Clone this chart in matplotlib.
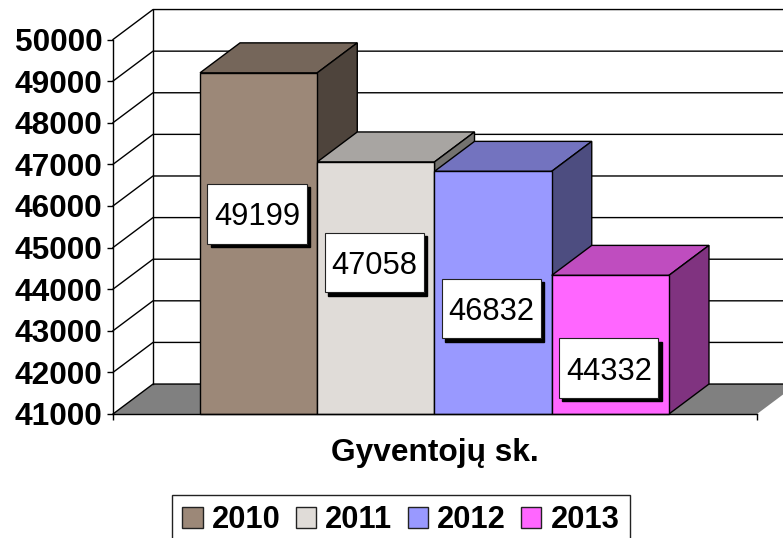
import matplotlib
matplotlib.use('Agg')
import matplotlib.pyplot as plt
from matplotlib.patches import Patch, Polygon, Rectangle

plt.rcParams['font.family'] = ['Liberation Sans', 'DejaVu Sans']

years = ['2010', '2011', '2012', '2013']
population = [49199, 47058, 46832, 44332]
y_ticks = [41000, 42000, 43000, 44000, 45000, 46000, 47000, 48000, 49000, 50000]
axis_title = 'Gyventojų sk.'

front_colors = ['#9C8878', '#E0DCD8', '#9999FF', '#FF66FF']
top_colors = ['#75665A', '#A8A5A2', '#7373BF', '#BF4DBF']
side_colors = ['#4E443C', '#74726F', '#4D4D80', '#803380']

# where the value boxes sit on the y scale
label_y = [45812, 44636, 43532, 42104]

W, H = 783, 538
fig = plt.figure(figsize=(W/100, H/100), dpi=100)
ax = fig.add_axes([113/W, 1-414/H, 644/W, 374.5/H])

base = y_ticks[0]
xmin, xmax = -0.5-87/117.2, 3.5+88/117.2
ax.set_xlim(xmin, xmax)
ax.set_ylim(base, y_ticks[-1])

# depth of the fake 3D, in data units
dx = 40/117.2
dy = 720
lw = 1.0

# floor
ax.add_patch(Polygon([(xmin, base), (xmin+dx, base+dy), (xmax+dx, base+dy), (xmax, base)],
                     closed=True, facecolor='#808080', edgecolor='none',
                     zorder=1, clip_on=False))

# walls
for v in y_ticks:
    ax.plot([xmin, xmin+dx, xmax+dx], [v, v+dy, v+dy], color='k', lw=lw,
            zorder=2, clip_on=False)
ax.plot([xmin+dx, xmin+dx], [base+dy, y_ticks[-1]+dy], color='k', lw=lw,
        zorder=2, clip_on=False)

# bars, left to right so the later ones cover the earlier sides
for i, v in enumerate(population):
    z = 3+i
    l, r = i-0.5, i+0.5
    ax.add_patch(Polygon([(l, v), (l+dx, v+dy), (r+dx, v+dy), (r, v)], closed=True,
                         facecolor=top_colors[i], edgecolor='k', lw=lw, zorder=z,
                         clip_on=False))
    ax.add_patch(Polygon([(r, base), (r+dx, base+dy), (r+dx, v+dy), (r, v)], closed=True,
                         facecolor=side_colors[i], edgecolor='k', lw=lw, zorder=z,
                         clip_on=False))
    ax.bar(i, v-base, bottom=base, width=1, color=front_colors[i], edgecolor='k',
           lw=lw, zorder=z, clip_on=False)

# value boxes with hard shadow
box_w = 99/117.2
box_h = 1430
shadow_x = 3.3/117.2
shadow_y = 80
for i, v in enumerate(population):
    ax.add_patch(Rectangle((i-box_w/2-0.014+shadow_x, label_y[i]-box_h/2-shadow_y), box_w, box_h,
                           facecolor='k', edgecolor='k', lw=lw, zorder=10))
    ax.add_patch(Rectangle((i-box_w/2-0.014, label_y[i]-box_h/2), box_w, box_h,
                           facecolor='white', edgecolor='#222222', lw=0.8, zorder=11))
    ax.text(i-0.014, label_y[i], str(v), ha='center', va='center_baseline', fontsize=22.2,
            color='k', zorder=12)

for s in ['top', 'right']:
    ax.spines[s].set_visible(False)
for s in ['left', 'bottom']:
    ax.spines[s].set_linewidth(lw)
    ax.spines[s].set_zorder(9)

ax.set_yticks(y_ticks)
ax.set_yticklabels([str(t) for t in y_ticks], fontsize=22.8, fontweight='bold')
ax.tick_params(axis='y', length=4.5, width=lw, pad=3)
ax.set_xticks([xmin, xmax])
ax.set_xticklabels(['', ''])
ax.tick_params(axis='x', length=4.5, width=lw)
ax.set_xlabel(axis_title, fontsize=22.8, fontweight='bold', labelpad=9)

handles = [Patch(facecolor=c, edgecolor='#222222', lw=lw, label=y)
           for c, y in zip(front_colors, years)]
leg = fig.legend(handles=handles, loc='center', bbox_to_anchor=(401/W, 1-520.5/H), ncol=4,
                 prop={'weight': 'bold', 'size': 22.2},
                 frameon=True, fancybox=False, framealpha=1, edgecolor='#222222',
                 handlelength=0.65, handleheight=0.65, handletextpad=0.3,
                 columnspacing=0.5, borderpad=0.33, borderaxespad=0)
leg.get_frame().set_linewidth(lw)

fig.savefig('out.png', dpi=100)
